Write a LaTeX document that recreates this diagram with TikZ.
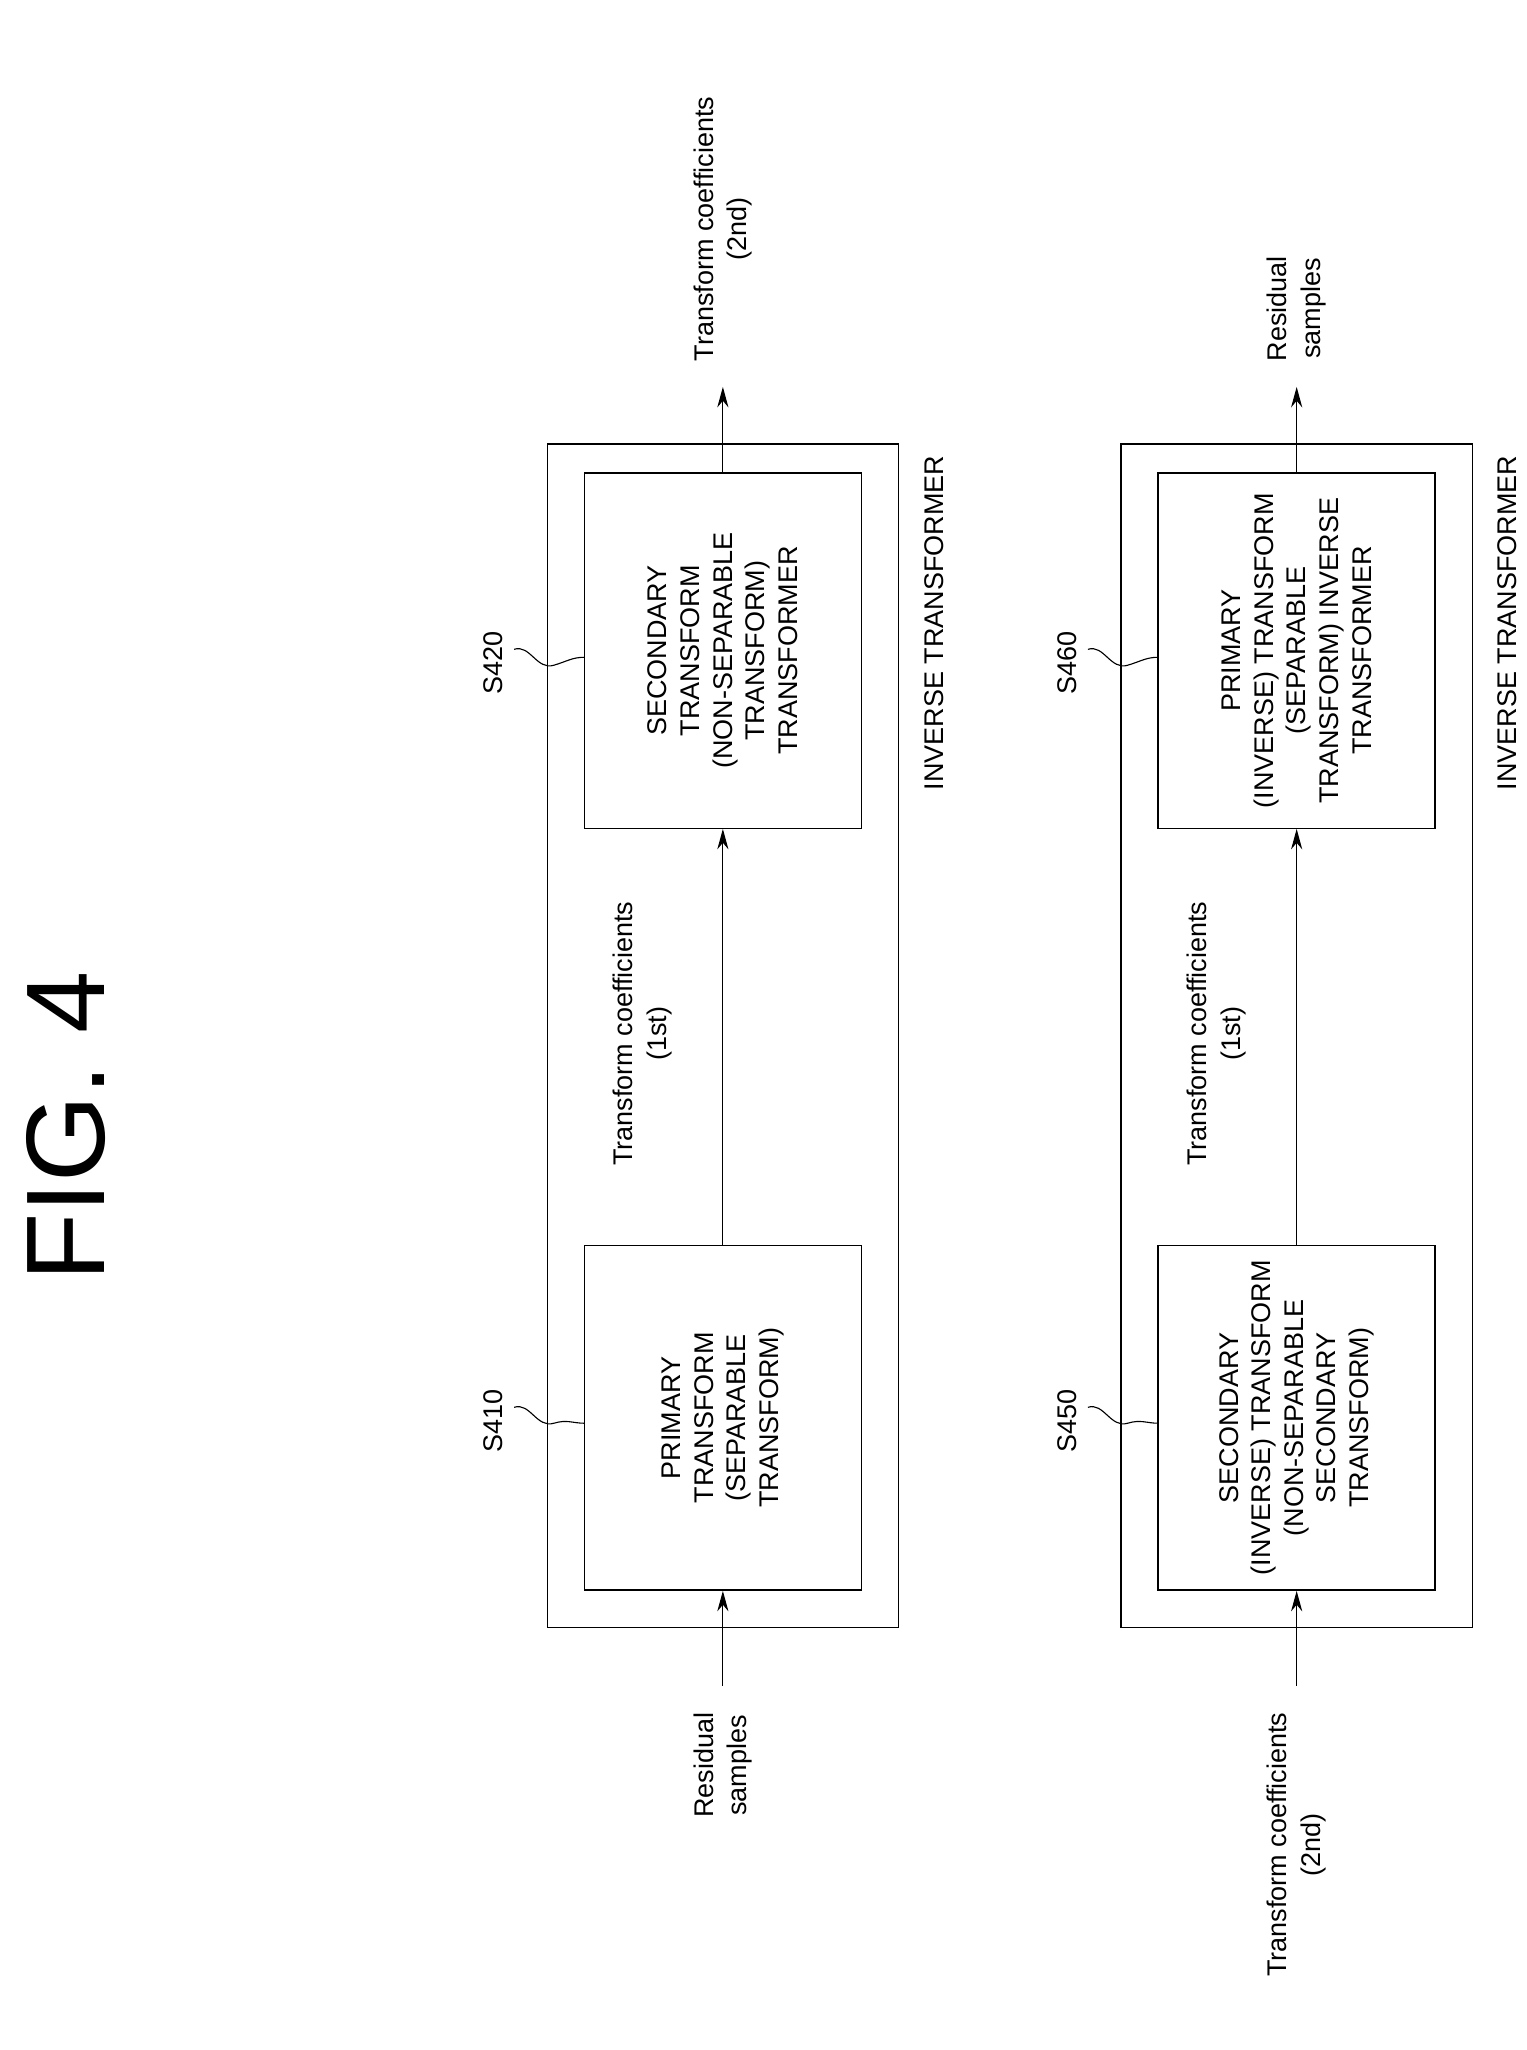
\documentclass[tikz,border=0pt]{standalone}
\usepackage{fontspec}
\setmainfont{Liberation Sans}
\usetikzlibrary{arrows.meta}
\begin{document}
\begin{tikzpicture}[x=0.05cm,y=-0.05cm,
  box/.style={draw,line width=1.5pt},
  lab/.style={rotate=90,align=center,font=\fontsize{29}{36}\selectfont},
  blab/.style={rotate=90,align=center,font=\fontsize{29}{35}\selectfont},
  arr/.style={line width=1.2pt,-{Stealth[length=22pt,width=12pt]}},
  lead/.style={line width=1.2pt}]
\useasboundingbox (0,0) rectangle (1152,1547);
\node[rotate=90,font=\fontsize{120}{130}\selectfont] (fig) at (50,850) {FIG. 4};
\foreach \o/\i/\ia/\ib/\ta/\sa/\sb/\xo in {
 a/{Residual\\samples}/{PRIMARY\\TRANSFORM\\(SEPARABLE\\TRANSFORM)}/{SECONDARY\\TRANSFORM\\(NON-SEPARABLE\\TRANSFORM)\\TRANSFORMER}/{Transform coefficients\\(2nd)}/S410/S420/0,
 b/{Transform coefficients\\(2nd)}/{SECONDARY\\(INVERSE) TRANSFORM\\(NON-SEPARABLE\\SECONDARY\\TRANSFORM)}/{PRIMARY\\(INVERSE) TRANSFORM\\(SEPARABLE\\TRANSFORM) INVERSE\\TRANSFORMER}/{Residual\\samples}/S450/S460/433}{
 \begin{scope}[xshift=\xo*0.05cm]
  \node[box,minimum width=265*0.05cm,minimum height=893*0.05cm] (out\o) at (545.5,781.5) {};
  \node[box,minimum width=209*0.05cm,minimum height=260*0.05cm] (p\o) at (545.5,1070) {};
  \node[blab] (pt\o) at (545.5,1070) {\ia};
  \node[box,minimum width=209*0.05cm,minimum height=268*0.05cm] (s\o) at (545.5,491) {};
  \node[blab] (st\o) at (545.5,491) {\ib};
  \coordinate (in\o) at (545.5,1272);
  \coordinate (o\o) at (545.5,292);
  \draw[arr] (in\o) -- (p\o.south);
  \draw[arr] (p\o.north) -- (s\o.south);
  \draw[arr] (s\o.north) -- (o\o);
  \node[lab,anchor=east] (il\o) at (545.5,1290) {\i};
  \node[lab,anchor=west] (ol\o) at (545.5,275) {\ta};
  \node[lab] (ml\o) at (485,780) {Transform coefficients\\(1st)};
  \node[lab,anchor=north] (itl\o) at (695,470) {INVERSE TRANSFORMER};
  \node[lab] (sl1\o) at (372,1072) {\sa};
  \node[lab] (sl2\o) at (372,500) {\sb};
  \draw[lead] (388,1062) .. controls (400,1058) and (405,1078) .. (418,1074) .. controls (428,1071) and (432,1074) .. (441,1074);
  \draw[lead] (388,490) .. controls (400,486) and (405,506) .. (418,502) .. controls (428,499) and (432,496) .. (441,496);
 \end{scope}}
\end{tikzpicture}
\end{document}
